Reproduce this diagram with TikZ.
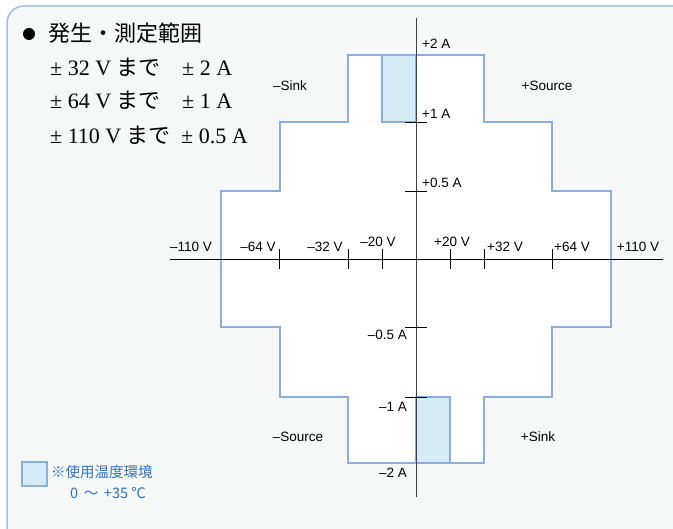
\documentclass[tikz,border=0pt]{standalone}
\usepackage{fontspec}
\setmainfont{Liberation Serif}
\setsansfont{Liberation Sans}
\newfontfamily\jpfont{Noto Sans CJK JP}
\definecolor{frameblue}{HTML}{A3BCE3}
\definecolor{paper}{HTML}{F6F8F8}
\definecolor{areablue}{HTML}{8CAEDF}
\definecolor{tempfill}{HTML}{D5EBF8}
\definecolor{legendtext}{HTML}{2F74BA}

\begin{document}
\begin{tikzpicture}[x=1pt,y=-1pt]

      \useasboundingbox (0,0) rectangle (673,529);
      \begin{scope}
        \clip (0,0) rectangle (673,529);
        \path[draw=frameblue,line width=1.5pt,fill=paper,rounded corners=17pt] (7,6) rectangle (690,545);
      \end{scope}

      % range
      \path[fill=white] (348,55) -- (484,55) -- (484,122) -- (552,122) -- (552,191) -- (611,191)
        -- (611,327) -- (552,327) -- (552,397) -- (484,397) -- (484,463) -- (348,463) -- (348,397)
        -- (280,397) -- (280,327) -- (221,327) -- (221,191) -- (280,191) -- (280,122) -- (348,122) -- cycle;
      \begin{scope}[every path/.style={fill=tempfill,draw=areablue,line width=2pt}]
        \path (382,55) rectangle (416,122);
        \path (416,397) rectangle (450,463);
      \end{scope}
      \draw[areablue,line width=2pt] (348,55) -- (484,55) -- (484,122) -- (552,122) -- (552,191) -- (611,191)
        -- (611,327) -- (552,327) -- (552,397) -- (484,397) -- (484,463) -- (348,463) -- (348,397)
        -- (280,397) -- (280,327) -- (221,327) -- (221,191) -- (280,191) -- (280,122) -- (348,122) -- cycle;

      % axes
      \coordinate (vtop)   at (416,18);
      \coordinate (vbot)   at (416,497);
      \coordinate (hleft)  at (170,259);
      \coordinate (hright) at (663,259);
      \draw[black!75,line width=1pt] (vtop) -- (vbot);
      \draw[line width=0.8pt] (hleft) -- (hright);

      \begin{scope}[line width=0.8pt]
        \draw (279,249) -- (279,269);
        \draw (348,249) -- (348,269);
        \draw (382,249) -- (382,269);
        \draw (450,249) -- (450,269);
        \draw (484,249) -- (484,269);
        \draw (552,249) -- (552,269);
        \draw (405,122) -- (427,122);
        \draw (405,191) -- (427,191);
        \draw (405,327) -- (427,327);
        \draw (405,397) -- (427,397);
      \end{scope}

      \begin{scope}[every node/.style={font=\sffamily\fontsize{13.5}{14}\selectfont,inner sep=0pt}]
        \node[anchor=west] (a2p)  at (422,44)  {+2 A};
        \node[anchor=west] (a1p)  at (422,114) {+1 A};
        \node[anchor=west] (a05p) at (422,183) {+0.5 A};
        \node[anchor=east] (a05m) at (407,335) {–0.5 A};
        \node[anchor=east] (a1m)  at (407,407) {–1 A};
        \node[anchor=east] (a2m)  at (407,473) {–2 A};
        \node (v110m) at (191,247) {–110 V};
        \node (v64m)  at (258,247) {–64 V};
        \node (v32m)  at (325,247) {–32 V};
        \node (v20m)  at (378,242) {–20 V};
        \node (v20p)  at (452,242) {+20 V};
        \node (v32p)  at (505,247) {+32 V};
        \node (v64p)  at (572,247) {+64 V};
        \node (v110p) at (638,247) {+110 V};
        \node (sinkm)   at (290,86)  {–Sink};
        \node (sourcep) at (547,86)  {+Source};
        \node (sourcem) at (298,437) {–Source};
        \node (sinkp)   at (538,437) {+Sink};
      \end{scope}

      % ranges text
      \node[circle,fill,minimum size=12pt,inner sep=0pt] (bullet) at (29,34) {};
      \begin{scope}[every node/.style={anchor=base west,inner sep=0pt,font=\fontsize{22}{22}\selectfont}]
        \node (title) at (48,42) {\jpfont 発生・測定範囲};
        \node (r32)  at (50,76)  {± 32 V \jpfont まで};
        \node (r64)  at (50,109) {± 64 V \jpfont まで};
        \node (r110) at (50,144) {± 110 V \jpfont まで};
        \node (i2)   at (182,76)  {± 2 A};
        \node (i1)   at (182,109) {± 1 A};
        \node (i05)  at (181,144) {± 0.5 A};
      \end{scope}

      % legend
      \path[fill=tempfill,draw=areablue,line width=2pt] (22,462) rectangle (47,486);
      \begin{scope}[every node/.style={text=legendtext,inner sep=0pt,font=\jpfont\fontsize{14.5}{15}\selectfont}]
        \node[anchor=west] (temp)  at (51,472)  {※使用温度環境};
        \node (trange) at (108,493) {0 \,～\, +35 ℃};
      \end{scope}

    \end{tikzpicture}
\end{document}
